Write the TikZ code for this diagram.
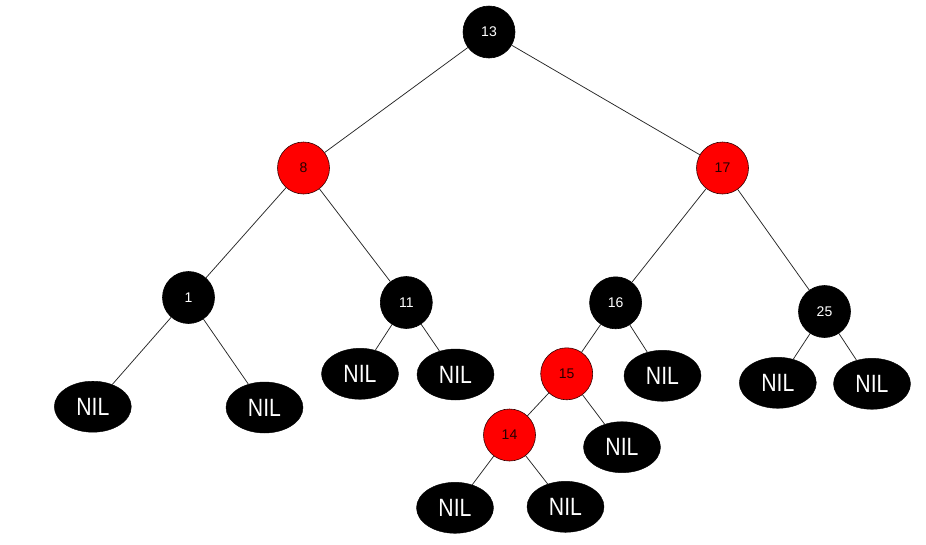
\documentclass[tikz,border=0pt]{standalone}
\usepackage{fontspec}
\setmainfont{Liberation Sans}
\usetikzlibrary{shapes.geometric}
\begin{document}
\begin{tikzpicture}[x=1pt,y=-1pt,
  blk/.style={circle,fill=black,draw=black,line width=0.6pt,minimum size=52pt,inner sep=0pt,text=white,font=\fontsize{14}{16}\selectfont},
  rd/.style={circle,fill=red,draw=black!80!red,line width=0.6pt,minimum size=52pt,inner sep=0pt,text=black!85!red,font=\fontsize{14}{16}\selectfont},
  nil/.style={ellipse,fill=black,draw=black,minimum width=77pt,minimum height=51pt,inner sep=0pt,text=white,font=\fontsize{25}{28}\selectfont},
  edge/.style={draw=black!85,line width=0.75pt}]
\useasboundingbox (0,0) rectangle (926,544);
\node[blk] (n13) at (489,32) {13};
\node[rd]  (n8)  at (303.5,168) {8};
\node[rd]  (n17) at (722.5,168) {17};
\node[blk] (n1)  at (188.5,297.5) {1};
\node[blk] (n11) at (406.3,302.5) {11};
\node[blk] (n16) at (615.6,302.8) {16};
\node[blk] (n25) at (824.5,311.5) {25};
\node[rd]  (n15) at (566.7,373.8) {15};
\node[rd]  (n14) at (509.5,435) {14};
\node[nil] (a) at (92.8,406.7) {\scalebox{0.85}[1]{NIL}};
\node[nil] (b) at (264.5,407.5) {\scalebox{0.85}[1]{NIL}};
\node[nil] (c) at (360,373.8) {\scalebox{0.85}[1]{NIL}};
\node[nil] (d) at (455.5,374.5) {\scalebox{0.85}[1]{NIL}};
\node[nil] (e) at (662.5,375.8) {\scalebox{0.85}[1]{NIL}};
\node[nil] (f) at (777.8,382.8) {\scalebox{0.85}[1]{NIL}};
\node[nil] (g) at (872,383.8) {\scalebox{0.85}[1]{NIL}};
\node[nil] (h) at (622,447.2) {\scalebox{0.85}[1]{NIL}};
\node[nil] (i) at (455,507.8) {\scalebox{0.85}[1]{NIL}};
\node[nil] (j) at (565.5,506.8) {\scalebox{0.85}[1]{NIL}};
\draw[edge] (n13) -- (n8);
\draw[edge] (n13) -- (n17);
\draw[edge] (n8) -- (n1);
\draw[edge] (n8) -- (n11);
\draw[edge] (n17) -- (n16);
\draw[edge] (n17) -- (n25);
\draw[edge] (n1) -- (a);
\draw[edge] (n1) -- (b);
\draw[edge] (n11) -- (c);
\draw[edge] (n11) -- (d);
\draw[edge] (n16) -- (n15);
\draw[edge] (n16) -- (e);
\draw[edge] (n25) -- (f);
\draw[edge] (n25) -- (g);
\draw[edge] (n15) -- (n14);
\draw[edge] (n15) -- (h);
\draw[edge] (n14) -- (i);
\draw[edge] (n14) -- (j);
\end{tikzpicture}
\end{document}
